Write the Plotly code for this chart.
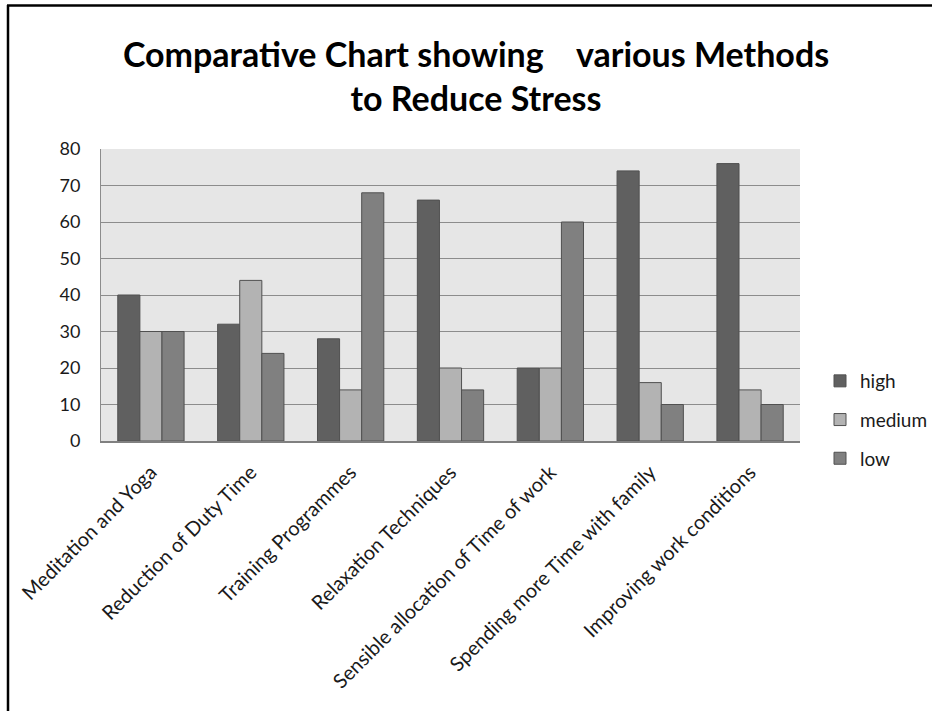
import plotly.graph_objects as go

categories = ["Meditation and Yoga", "Reduction of Duty Time", "Training Programmes",
              "Relaxation Techniques", "Sensible allocation of Time of work",
              "Spending more Time with family", "Improving work conditions"]
high = [40, 32, 28, 66, 20, 74, 76]
medium = [30, 44, 14, 20, 20, 16, 14]
low = [30, 24, 68, 14, 60, 10, 10]
series_names = ["high", "medium", "low"]
series_colors = ["#606060", "#b3b3b3", "#808080"]

W, H = 932, 711
L, R, T, B = 101, 132, 149, 270
pw, ph = W - L - R, H - T - B

fig = go.Figure()
for name, vals, col in zip(series_names, [high, medium, low], series_colors):
    fig.add_trace(go.Bar(
        x=categories, y=vals, name=name, legendgroup=name,
        marker=dict(color=col, line=dict(color="#505050", width=1)),
    ))

def px_x(x):
    return (x - L) / pw

def px_y(y):
    return (H - B - y) / ph

fig.update_layout(
    width=W, height=H,
    margin=dict(l=L, r=R, t=T, b=B, autoexpand=False),
    paper_bgcolor="white",
    plot_bgcolor="#e6e6e6",
    barmode="group", bargap=0.336, bargroupgap=0,
    font=dict(family="Lato", color="#1a1a1a"),
    title=dict(
        text="Comparative Chart showing\u00a0\u00a0\u00a0 various Methods<br>to Reduce Stress",
        x=476 / W, xanchor="center", y=1 - 67 / H, yanchor="middle",
        font=dict(family="Lato", size=34, color="black", weight="bold"),
    ),
    xaxis=dict(
        tickangle=-45, tickfont=dict(size=20, color="#1a1a1a"),
        showgrid=False, showline=True, linecolor="#808080", linewidth=1.5,
        ticks="", ticklen=0, ticklabelstandoff=10,
    ),
    yaxis=dict(
        range=[0, 80], dtick=10, tickfont=dict(size=18, color="#1a1a1a"),
        showgrid=True, gridcolor="#8c8c8c", gridwidth=1,
        showline=True, linecolor="#8c8c8c", linewidth=1,
        ticks="outside", ticklen=16, tickcolor="rgba(0,0,0,0)",
        zeroline=False,
    ),
    legend=dict(
        x=px_x(820), xanchor="left", y=px_y(362), yanchor="top",
        font=dict(size=19, color="#1a1a1a"), tracegroupgap=11,
        bgcolor="rgba(0,0,0,0)",
    ),
    showlegend=True,
)

fig.add_shape(type="line", xref="paper", yref="paper",
              x0=px_x(8), x1=px_x(8), y0=px_y(5), y1=px_y(H + 5),
              line=dict(color="black", width=2.5))
fig.add_shape(type="line", xref="paper", yref="paper",
              x0=px_x(7), x1=px_x(W + 5), y0=px_y(5.5), y1=px_y(5.5),
              line=dict(color="black", width=2.5))

fig.write_html("out.html", config={"displayModeBar": False},
               post_script="document.body.style.margin='0';document.body.style.overflow='hidden';")
